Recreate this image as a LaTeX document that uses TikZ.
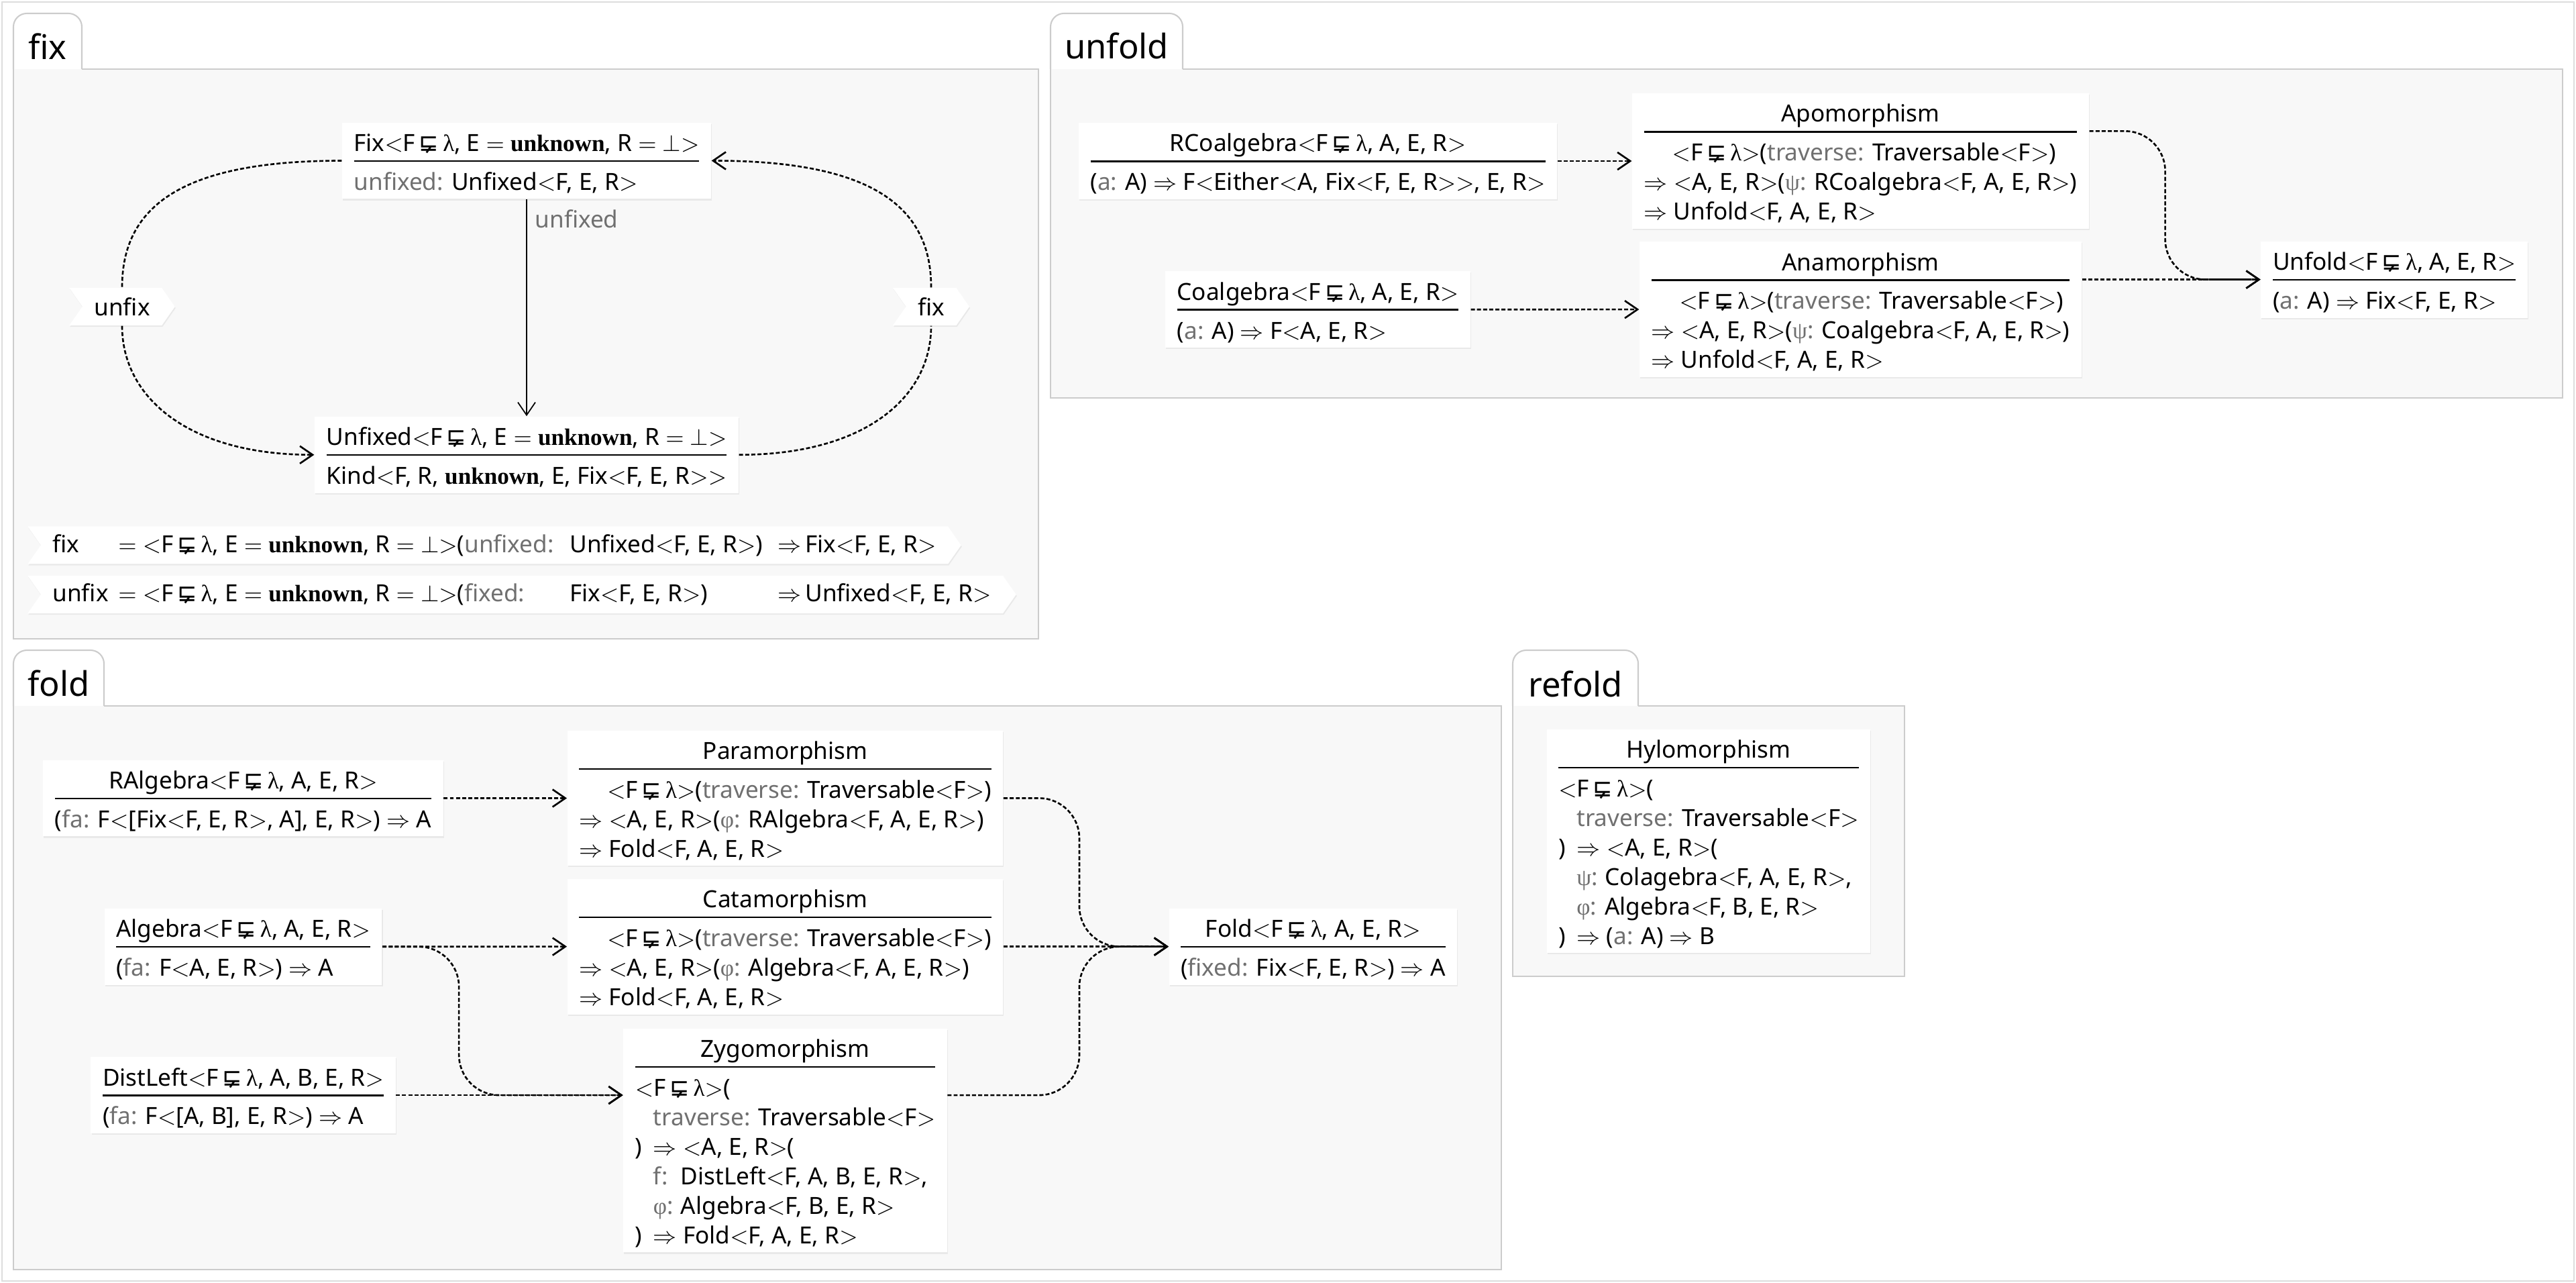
\documentclass[tikz,border=0pt]{standalone}
\usepackage{fontspec}
\setmainfont{Noto Sans}
\newfontfamily\dejavu{DejaVu Sans}
\newfontfamily\timesfam{Liberation Serif}
\usepackage{amsmath}
\usepackage{amssymb}
\usepackage{tikz}
\usetikzlibrary{positioning}
\usetikzlibrary{arrows.meta}
\usetikzlibrary{shapes.symbols}
\usetikzlibrary{shadows}

\definecolor{paramgray}{HTML}{707070}
\definecolor{panelfill}{HTML}{F8F8F8}
\definecolor{panelline}{HTML}{CCCCCC}
\definecolor{framegray}{HTML}{DDDDDD}

\setlength{\arrayrulewidth}{0.7pt}

\newcommand{\pn}[1]{\textcolor{paramgray}{#1}}
\newcommand{\ob}{\ensuremath{<}}
\newcommand{\cb}{\ensuremath{>}}
\newcommand{\impl}{\ensuremath{\Rightarrow}}
\newcommand{\unk}{{\timesfam\bfseries unknown}}
\newcommand{\lam}{{\timesfam λ}}
\newcommand{\psy}{{\timesfam ψ}}
\newcommand{\phy}{{\timesfam φ}}
\newcommand{\FL}{F\,{\dejavu ⋤}\,\lam}
\newcommand{\umlbox}[2]{%
  \begin{tabular}{@{}l@{}}
    \multicolumn{1}{@{}c@{}}{\rule{0pt}{12.2pt}#1}\\\hline
    \rule{0pt}{12pt}#2
  \end{tabular}}

\begin{document}
\begin{tikzpicture}[
    cls/.style={fill=white, inner xsep=5pt, inner ysep=0pt, font=\fontsize{10}{12.5}\selectfont,
      drop shadow={opacity=0.12, shadow xshift=0.3pt, shadow yshift=-0.6pt}},
    sigtag/.style={signal, signal from=west, signal to=east, signal pointer angle=110,
      fill=white, minimum height=0.56cm, inner xsep=5pt, inner ysep=0pt, font=\fontsize{10}{12.5}\selectfont,
      drop shadow={opacity=0.12, shadow xshift=0.3pt, shadow yshift=-0.6pt}},
    dots/.style={dash pattern=on 1.7pt off 0.9pt, line width=0.75pt},
    flow/.style={dots, -{Straight Barb[length=1.9mm,width=2.6mm]}},
    link/.style={line width=0.5pt, -{Straight Barb[length=1.9mm,width=2.6mm]}},
    paneledge/.style={draw=panelline, line width=0.6pt},
    paneltitle/.style={anchor=base, font=\fontsize{14.4}{16}\selectfont},
    node distance=1.06cm
    ]
    \useasboundingbox (0,0) rectangle (38.4,-19.12);
    \draw[framegray, line width=0.6pt] (0.03,-0.03) rectangle (38.37,-19.09);

    %Panels
    \fill[panelfill] (0.20,-1.03) rectangle (15.48,-9.52);
    \draw[paneledge, rounded corners=0.2cm] (0.20,-1.03) -- (0.20,-0.20) -- (1.22,-0.20) -- (1.22,-1.03);
    \draw[paneledge] (1.22,-1.03) -- (15.48,-1.03) -- (15.48,-9.52) -- (0.20,-9.52) -- (0.20,-1.03);
    \node[paneltitle] (fixTitle) at (0.71,-0.89) {fix};

    \fill[panelfill] (15.66,-1.03) rectangle (38.20,-5.93);
    \draw[paneledge, rounded corners=0.2cm] (15.66,-1.03) -- (15.66,-0.20) -- (17.63,-0.20) -- (17.63,-1.03);
    \draw[paneledge] (17.63,-1.03) -- (38.20,-1.03) -- (38.20,-5.93) -- (15.66,-5.93) -- (15.66,-1.03);
    \node[paneltitle] (unfoldTitle) at (16.645,-0.88) {unfold};

    \fill[panelfill] (0.20,-10.52) rectangle (22.38,-18.92);
    \draw[paneledge, rounded corners=0.2cm] (0.20,-10.52) -- (0.20,-9.69) -- (1.55,-9.69) -- (1.55,-10.52);
    \draw[paneledge] (1.55,-10.52) -- (22.38,-10.52) -- (22.38,-18.92) -- (0.20,-18.92) -- (0.20,-10.52);
    \node[paneltitle] (foldTitle) at (0.875,-10.37) {fold};

    \fill[panelfill] (22.55,-10.52) rectangle (28.39,-14.55);
    \draw[paneledge, rounded corners=0.2cm] (22.55,-10.52) -- (22.55,-9.69) -- (24.42,-9.69) -- (24.42,-10.52);
    \draw[paneledge] (24.42,-10.52) -- (28.39,-10.52) -- (28.39,-14.55) -- (22.55,-14.55) -- (22.55,-10.52);
    \node[paneltitle] (refoldTitle) at (23.485,-10.38) {refold};

    %Nodes fix
    \node[cls] (Fix) at (7.85,-2.395) {\umlbox{Fix\ob\FL, E $=$ \unk, R $=$ $\bot$\cb}{\pn{unfixed:} Unfixed\ob F, E, R\cb}};
    \node[cls, below=3.23cm of Fix] (Unfixed) {\umlbox{Unfixed\ob\FL, E $=$ \unk, R $=$ $\bot$\cb}{Kind\ob F, R, \unk, E, Fix\ob F, E, R\cb\cb}};
    \node[sigtag] (unfixTag) at (1.82,-4.57) {unfix};
    \node[sigtag] (fixTag) at (13.88,-4.57) {fix};
    \node[sigtag, anchor=west] (fixSig) at (0.60,-8.125) {\makebox[0.98cm][l]{fix}$=$ \ob\FL, E $=$ \unk, R $=$ $\bot$\cb(\makebox[1.57cm][l]{\pn{unfixed:}}\makebox[3.1cm][l]{Unfixed\ob F, E, R\cb)}\impl\,Fix\ob F, E, R\cb};
    \node[sigtag, anchor=west] (unfixSig) at (0.60,-8.86) {\makebox[0.98cm][l]{unfix}$=$ \ob\FL, E $=$ \unk, R $=$ $\bot$\cb(\makebox[1.57cm][l]{\pn{fixed:}}\makebox[3.1cm][l]{Fix\ob F, E, R\cb)}\impl\,Unfixed\ob F, E, R\cb};

    %Nodes unfold
    \node[cls] (RCoalgebra) at (19.645,-2.40) {\umlbox{RCoalgebra\ob\FL, A, E, R\cb}{(\pn{a:} A) \impl\ F\ob Either\ob A, Fix\ob F, E, R\cb\cb, E, R\cb}};
    \node[cls, below=of RCoalgebra] (Coalgebra) {\umlbox{Coalgebra\ob\FL, A, E, R\cb}{(\pn{a:} A) \impl\ F\ob A, E, R\cb}};
    \node[cls] (Apo) at (27.735,-2.40) {\umlbox{Apomorphism}{\hspace*{0.42cm}\ob\FL\cb(\pn{traverse:} Traversable\ob F\cb)\\\impl\ \ob A, E, R\cb(\pn{\psy:} RCoalgebra\ob F, A, E, R\cb)\\\impl\ Unfold\ob F, A, E, R\cb}};
    \node[cls, below=0.18cm of Apo] (Ana) {\umlbox{Anamorphism}{\hspace*{0.42cm}\ob\FL\cb(\pn{traverse:} Traversable\ob F\cb)\\\impl\ \ob A, E, R\cb(\pn{\psy:} Coalgebra\ob F, A, E, R\cb)\\\impl\ Unfold\ob F, A, E, R\cb}};
    \node[cls, anchor=west] (Unfold) at ([xshift=2.66cm,yshift=-0.57cm]Ana.north east) {\umlbox{Unfold\ob\FL, A, E, R\cb}{(\pn{a:} A) \impl\ Fix\ob F, E, R\cb}};

    %Nodes fold
    \node[cls] (RAlgebra) at (3.625,-11.895) {\umlbox{RAlgebra\ob\FL, A, E, R\cb}{(\pn{fa:} F\ob[Fix\ob F, E, R\cb, A], E, R\cb) \impl\ A}};
    \node[cls, below=of RAlgebra] (Algebra) {\umlbox{Algebra\ob\FL, A, E, R\cb}{(\pn{fa:} F\ob A, E, R\cb) \impl\ A}};
    \node[cls, below=of Algebra] (DistLeft) {\umlbox{DistLeft\ob\FL, A, B, E, R\cb}{(\pn{fa:} F\ob[A, B], E, R\cb) \impl\ A}};
    \node[cls] (Para) at (11.705,-11.895) {\umlbox{Paramorphism}{\hspace*{0.42cm}\ob\FL\cb(\pn{traverse:} Traversable\ob F\cb)\\\impl\ \ob A, E, R\cb(\pn{\phy:} RAlgebra\ob F, A, E, R\cb)\\\impl\ Fold\ob F, A, E, R\cb}};
    \node[cls, below=0.18cm of Para] (Cata) {\umlbox{Catamorphism}{\hspace*{0.42cm}\ob\FL\cb(\pn{traverse:} Traversable\ob F\cb)\\\impl\ \ob A, E, R\cb(\pn{\phy:} Algebra\ob F, A, E, R\cb)\\\impl\ Fold\ob F, A, E, R\cb}};
    \node[cls, below=0.2cm of Cata] (Zygo) {\umlbox{Zygomorphism}{\ob\FL\cb(\\\hspace*{0.27cm}\pn{traverse:} Traversable\ob F\cb\\\makebox[0.27cm][l]{)}\impl\ \ob A, E, R\cb(\\\hspace*{0.27cm}\makebox[0.41cm][l]{\pn{f:}}DistLeft\ob F, A, B, E, R\cb,\\\hspace*{0.27cm}\makebox[0.41cm][l]{\pn{\phy:}}Algebra\ob F, B, E, R\cb\\\makebox[0.27cm][l]{)}\impl\ Fold\ob F, A, E, R\cb}};
    \node[cls, anchor=west] (Fold) at ([xshift=2.46cm]Cata.east) {\umlbox{Fold\ob\FL, A, E, R\cb}{(\pn{fixed:} Fix\ob F, E, R\cb) \impl\ A}};

    %Nodes refold
    \node[cls] (Hylo) at (25.47,-12.535) {\umlbox{Hylomorphism}{\ob\FL\cb(\\\hspace*{0.27cm}\pn{traverse:} Traversable\ob F\cb\\\makebox[0.27cm][l]{)}\impl\ \ob A, E, R\cb(\\\hspace*{0.27cm}\makebox[0.42cm][l]{\pn{\psy:}}Colagebra\ob F, A, E, R\cb,\\\hspace*{0.27cm}\makebox[0.42cm][l]{\pn{\phy:}}Algebra\ob F, B, E, R\cb\\\makebox[0.27cm][l]{)}\impl\ (\pn{a:} A) \impl\ B}};

    %Lines fix
    \draw[link] (Fix) -- node[pos=0.09, right, text=paramgray, font=\fontsize{10}{12.5}\selectfont] (unfixedLabel) {unfixed} (Unfixed);
    \draw[dots] (Fix.west) .. controls +(-2.43,0) and +(0,1.18) .. (unfixTag.north);
    \draw[flow] (unfixTag.south) .. controls +(0,-1.07) and +(-1.87,0) .. (Unfixed.west);
    \draw[dots] (Unfixed.east) .. controls +(1.87,0) and +(0,-1.07) .. (fixTag.south);
    \draw[flow] (fixTag.north) .. controls +(0,1.18) and +(2.43,0) .. (Fix.east);

    %Lines unfold
    \coordinate (apoOut) at ([yshift=-0.57cm]Apo.north east);
    \coordinate (unfoldIn) at ([xshift=1.13cm]apoOut |- Unfold.west);
    \draw[flow] (RCoalgebra.east) -- (Apo.west);
    \draw[flow] (Coalgebra.east) -- (Ana.west);
    \draw[flow, rounded corners=0.6cm] (apoOut) -| (unfoldIn) -- (Unfold.west);
    \draw[flow] ([yshift=-0.57cm]Ana.north east) -- (Unfold.west);

    %Lines fold
    \coordinate (zygoIn) at ([xshift=1.14cm]Algebra.east |- DistLeft.east);
    \coordinate (foldIn) at ([xshift=1.13cm]Para.east |- Fold.west);
    \draw[flow] (RAlgebra.east) -- (Para.west);
    \draw[flow] (Algebra.east) -- (Cata.west);
    \draw[flow, rounded corners=0.6cm] (Algebra.east) -| (zygoIn) -- (Zygo.west |- DistLeft.east);
    \draw[flow] (DistLeft.east) -- (Zygo.west |- DistLeft.east);
    \draw[flow, rounded corners=0.6cm] (Para.east) -| (foldIn) -- (Fold.west);
    \draw[flow] (Cata.east) -- (Fold.west);
    \draw[flow, rounded corners=0.6cm] (Zygo.east |- DistLeft.east) -| (foldIn) -- (Fold.west);

    \end{tikzpicture}
\end{document}
